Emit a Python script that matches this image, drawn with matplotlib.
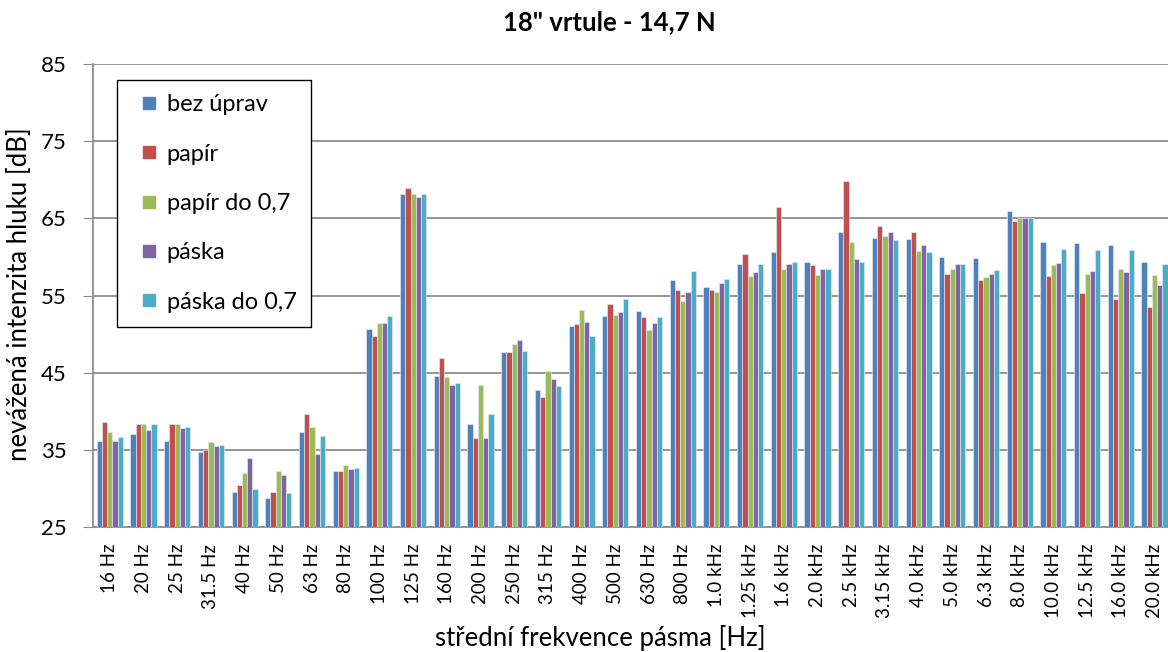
import numpy as np
import matplotlib.pyplot as plt
from matplotlib.lines import Line2D

plt.rcParams['font.family'] = ['Lato', 'DejaVu Sans']

pasma = ["16 Hz", "20 Hz", "25 Hz", "31.5 Hz", "40 Hz", "50 Hz", "63 Hz", "80 Hz",
         "100 Hz", "125 Hz", "160 Hz", "200 Hz", "250 Hz", "315 Hz", "400 Hz",
         "500 Hz", "630 Hz", "800 Hz", "1.0 kHz", "1.25 kHz", "1.6 kHz", "2.0 kHz",
         "2.5 kHz", "3.15 kHz", "4.0 kHz", "5.0 kHz", "6.3 kHz", "8.0 kHz",
         "10.0 kHz", "12.5 kHz", "16.0 kHz", "20.0 kHz"]

bez_uprav = [36.2, 37.1, 36.2, 34.7, 29.5, 28.8, 37.3, 32.2, 50.6, 68.1, 44.6, 38.3,
             47.7, 42.8, 51.0, 52.3, 53.0, 57.0, 56.1, 59.1, 60.7, 59.3, 63.2, 62.5,
             62.3, 60.0, 59.9, 66.0, 62.0, 61.8, 61.5, 59.4]
papir = [38.6, 38.3, 38.3, 35.0, 30.4, 29.5, 39.6, 32.2, 49.8, 68.9, 46.9, 36.6,
         47.7, 41.8, 51.3, 53.9, 52.2, 55.7, 55.7, 60.4, 66.5, 58.9, 69.9, 64.0,
         63.2, 57.8, 57.0, 64.6, 57.5, 55.3, 54.6, 53.5]
papir_07 = [37.3, 38.3, 38.4, 36.0, 32.0, 32.3, 38.0, 33.1, 51.5, 68.1, 44.5, 43.4,
            48.7, 45.2, 53.1, 52.5, 50.5, 54.3, 55.5, 57.5, 58.4, 57.6, 62.0, 62.7,
            60.8, 58.5, 57.4, 65.1, 58.9, 57.8, 58.4, 57.6]
paska = [36.2, 37.6, 37.8, 35.5, 33.9, 31.7, 34.4, 32.5, 51.4, 67.8, 43.4, 36.6,
         49.3, 44.2, 51.6, 52.8, 51.4, 55.5, 56.6, 58.1, 59.1, 58.4, 59.7, 63.2,
         61.6, 59.1, 57.8, 65.1, 59.2, 58.2, 58.0, 56.4]
paska_07 = [36.7, 38.4, 37.9, 35.6, 29.9, 29.4, 36.8, 32.7, 52.3, 68.2, 43.7, 39.7,
            47.8, 43.3, 49.7, 54.5, 52.2, 58.2, 57.2, 59.1, 59.3, 58.4, 59.3, 62.2,
            60.6, 59.1, 58.3, 65.1, 61.0, 60.9, 60.9, 59.1]

serie = [("bez úprav", bez_uprav, "#4F81BD"),
         ("papír", papir, "#C0504D"),
         ("papír do 0,7", papir_07, "#9BBB59"),
         ("páska", paska, "#8064A2"),
         ("páska do 0,7", paska_07, "#4BACC6")]

fig = plt.figure(figsize=(11.68, 6.52), dpi=100)
ax = fig.add_axes([0.0796, 0.1917, 0.9233, 0.7101])

x = np.arange(len(pasma))
w = 0.155
for i, (nazev, hodnoty, barva) in enumerate(serie):
    ax.bar(x + (i - 2) * w, np.array(hodnoty) - 25, w, bottom=25, color=barva,
           edgecolor="#dfe6f0", linewidth=0.5, zorder=3)

ax.set_xlim(-0.5, len(pasma) - 0.5)
ax.set_ylim(25, 85)
ax.set_yticks(np.arange(25, 86, 10))
ax.yaxis.grid(True, color="#8c8c8c", linewidth=1.3, zorder=0)
ax.set_xticks(x)
ax.set_xticklabels(pasma, rotation=90, fontsize=13.5)
ax.tick_params(axis="x", length=0, pad=12)
ax.tick_params(axis="y", labelsize=16, length=7, color="#8c8c8c", pad=12)

for s in ["top", "right"]:
    ax.spines[s].set_visible(False)
for s in ["left", "bottom"]:
    ax.spines[s].set_color("#8c8c8c")
    ax.spines[s].set_linewidth(1.3)

fig.text(0.522, 0.966, "18\" vrtule - 14,7 N", fontsize=18.5, fontweight="bold",
         ha="center", va="center")
fig.text(0.017, 0.549, "nevážená intenzita hluku [dB]", fontsize=18.5,
         rotation=90, ha="center", va="center")
fig.text(0.514, 0.0215, "střední frekvence pásma [Hz]", fontsize=18.5,
         ha="center", va="center")

# legenda se čtverečky
handles = [Line2D([], [], linestyle="none", marker="s", markersize=8.6,
                  markerfacecolor=b, markeredgecolor=b, label=n)
           for n, _, b in serie]
leg = ax.legend(handles=handles, loc="upper left",
                bbox_to_anchor=((117 - 93) / 1078.4, (527 - 80) / 463.0),
                fontsize=17, frameon=True, fancybox=False, framealpha=1,
                edgecolor="black", handlelength=1.5, handletextpad=0.0,
                labelspacing=1.2, borderpad=0.6, borderaxespad=0)
leg.get_frame().set_linewidth(1.0)

fig.savefig("out.png", dpi=100)
